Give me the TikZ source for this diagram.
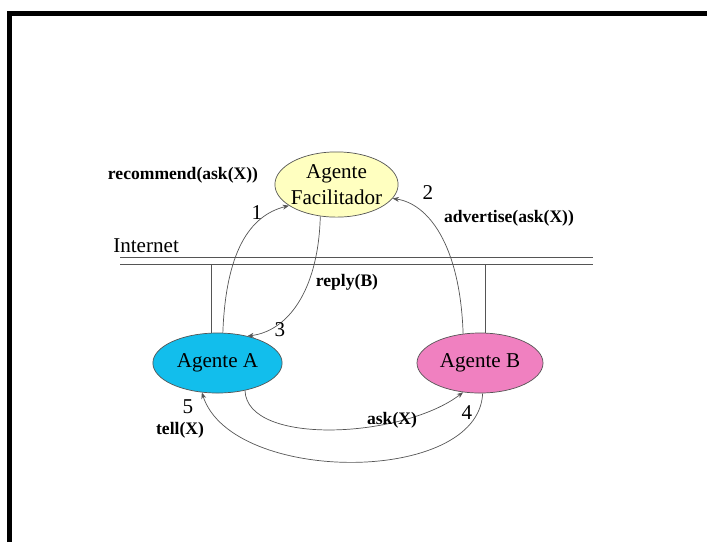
\documentclass[tikz,border=0pt]{standalone}
\usepackage{fontspec}
\setmainfont{Liberation Serif}
\usetikzlibrary{shapes.geometric,arrows.meta}

\definecolor{facyellow}{RGB}{255,255,192}
\definecolor{agcyan}{RGB}{18,190,236}
\definecolor{agpink}{RGB}{240,128,192}
\definecolor{linegray}{RGB}{85,85,85}

\begin{document}
\begin{tikzpicture}[x=0.025cm, y=-0.025cm,
    agent/.style={ellipse, draw=linegray, line width=0.5pt, inner sep=-4pt,
        align=center, font=\fontsize{15}{19}\selectfont},
    msg/.style={font=\fontsize{12.5}{14}\selectfont\bfseries},
    num/.style={font=\fontsize{15}{17}\selectfont},
    flow/.style={linegray, line width=0.5pt, -{Stealth[length=4.5pt,width=3.5pt]}}]
    \useasboundingbox (0,0) rectangle (707,542);
    % frame
    \draw[line width=3.3pt] (9.5,542) -- (9.5,13.5) -- (707,13.5);

    % agents
    \node[agent, fill=facyellow, minimum width=3.08cm, minimum height=1.63cm] (fac) at (336.5,184.5) {Agente\\Facilitador};
    \node[agent, fill=agcyan, minimum width=3.23cm, minimum height=1.5cm] (agA) at (217.5,363) {Agente A};
    \node[agent, fill=agpink, minimum width=3.15cm, minimum height=1.5cm] (agB) at (480,363) {Agente B};

    % internet bus
    \coordinate (netL) at (120,261);
    \coordinate (netR) at (593,261);
    \draw[linegray, line width=0.7pt, double, double distance=3.6pt] (netL) -- (netR);
    \node[num, anchor=south west, inner sep=0pt] (net) at (113,253) {Internet};
    \coordinate (tapA) at (211,264);
    \coordinate (tapB) at (485,264);
    \draw[linegray, line width=0.6pt] (tapA) -- (tapA |- agA.north);
    \draw[linegray, line width=0.6pt] (tapB) -- (tapB |- agB.north);

    % messages
    \draw[flow] (agA.80) .. controls +(3,-80) and +(-40,10) .. (fac.204);
    \draw[flow] (agB.120) .. controls +(-3,-90) and +(35,5) .. (fac.-14);
    \draw[flow] (fac.243) .. controls +(-2,75) and +(40,-5) .. (agA.42);
    \draw[flow] (agA.-45) .. controls +(2,56) and +(-60,46) .. (agB.-120);
    \draw[flow] (agB.-85) .. controls +(-4,92) and +(30,92) .. (agA.-118);

    \node[msg] (m1) at (183,175) {recommend(ask(X))};
    \node[msg] (m2) at (509,218) {advertise(ask(X))};
    \node[msg] (m3) at (347,282) {reply(B)};
    \node[msg] (m4) at (392,420) {ask(X)};
    \node[msg] (m5) at (180,430) {tell(X)};

    \node[num] (n1) at (257,213) {1};
    \node[num] (n2) at (428,193) {2};
    \node[num] (n3) at (280,330) {3};
    \node[num] (n4) at (467,413) {4};
    \node[num] (n5) at (188,407) {5};
\end{tikzpicture}
\end{document}
